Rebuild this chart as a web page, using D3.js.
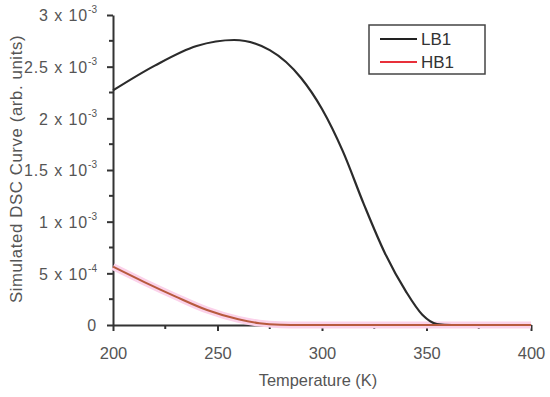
<!DOCTYPE html>
<html>
<head>
  <meta charset="UTF-8">
  <script src="https://d3js.org/d3.v7.min.js"></script>
</head>
<body style="margin:0;background:#fff">
  <svg id="dscSVG"></svg>
<style>
  text { font-family: 'Liberation Sans', Arial, sans-serif; fill: #555; }
  .legendtext { fill: #333; font-family: 'Liberation Sans Narrow', 'Liberation Sans', Arial, sans-serif; }
</style>
<script type="text/javascript">
  // values, y in units of 1e-3
  const lbTemp=[200,220,240,258,275,290,300,310,320,330,340,348,355,362,400];
  const lbValue=[2.27,2.51,2.70,2.758,2.66,2.39,2.09,1.68,1.17,0.70,0.33,0.10,0.01,0,0];
  const hbTemp=[200,215,230,245,260,270,280,290,400];
  const hbValue=[0.564,0.415,0.275,0.145,0.055,0.018,0.003,0,0];
  const xTicks=[200,250,300,350,400];
  const yTicks=[0,0.5,1,1.5,2,2.5,3];
  const yTickLabels=[['0',''],['5','-4'],['1','-3'],['1.5','-3'],['2','-3'],['2.5','-3'],['3','-3']];
  const seriesNames=['LB1','HB1'];

  let width=550,height=397;
  let chartMargin={top: 15,right: 19,bottom: 72,left: 113};
  let innerW=width-chartMargin.left-chartMargin.right;
  let innerH=height-chartMargin.top-chartMargin.bottom;

  let svg=d3.select('#dscSVG').attr('width',width).attr('height',height);
  let chart=svg.append('g').attr('transform',`translate(${chartMargin.left},${chartMargin.top})`);

  const x=d3.scaleLinear().domain([200,400]).range([0,innerW]);
  const y=d3.scaleLinear().domain([0,3]).range([innerH,0]);

  const line=d3.line().x(d => x(d[0])).y(d => y(d[1])).curve(d3.curveMonotoneX);
  const lbData=lbTemp.map((t,i) => [t,lbValue[i]]);
  const hbData=hbTemp.map((t,i) => [t,hbValue[i]]);

  // minor ticks
  let minorX=d3.range(225,400,50);
  let minorY=d3.range(0.25,3,0.5);
  chart.append('g').selectAll('line').data(minorX).join('line')
    .attr('x1',d => x(d)).attr('x2',d => x(d)).attr('y1',innerH).attr('y2',innerH+4)
    .attr('stroke','#333').attr('stroke-width',2);
  chart.append('g').selectAll('line').data(minorY).join('line')
    .attr('x1',-4).attr('x2',0).attr('y1',d => y(d)).attr('y2',d => y(d))
    .attr('stroke','#333').attr('stroke-width',2);

  let xAxis=chart.append('g').attr('transform',`translate(0,${innerH})`)
    .call(d3.axisBottom(x).tickValues(xTicks).tickSize(6).tickPadding(16).tickSizeOuter(0));
  xAxis.select('.domain').attr('stroke','#333').attr('stroke-width',2);
  xAxis.selectAll('.tick line').attr('stroke','#333').attr('stroke-width',2);
  xAxis.selectAll('.tick text').attr('font-size','16.5px').attr('fill','#555');

  let yAxis=chart.append('g')
    .call(d3.axisLeft(y).tickValues(yTicks).tickSize(6).tickPadding(10).tickSizeOuter(0).tickFormat(''));
  yAxis.select('.domain').attr('stroke','#333').attr('stroke-width',2);
  yAxis.selectAll('.tick line').attr('stroke','#333').attr('stroke-width',2);
  yAxis.selectAll('.tick text').each(function(d,i){
    let lab=yTickLabels[i];
    let t=d3.select(this).attr('font-size','16px').attr('fill','#555').attr('x',-16).attr('dy','0.36em')
      .attr('letter-spacing','0.9px');
    if(lab[1]===''){
      t.text(lab[0]);
    }else{
      t.append('tspan').text(lab[0]+' x 10');
      t.append('tspan').attr('font-size','10px').attr('dy','-0.8em').attr('letter-spacing','0px').text(lab[1]);
    }
  });

  // HB1 halo then lines
  chart.append('path').datum(hbData).attr('d',line).attr('fill','none')
    .attr('stroke','#fbd2ea').attr('stroke-width',7).attr('stroke-linejoin','round');
  chart.append('path').datum(lbData).attr('d',line).attr('fill','none')
    .attr('stroke','#2b2b2b').attr('stroke-width',2.2);
  chart.append('path').datum(hbData).attr('d',line).attr('fill','none')
    .attr('stroke','#b85a3e').attr('stroke-width',2);

  // axis labels
  svg.append('text').attr('x',chartMargin.left+x(300)-4).attr('y',386)
    .attr('text-anchor','middle').attr('font-size','16.4px').text('Temperature (K)');
  svg.append('text').attr('transform','translate(22,169) rotate(-90)')
    .attr('text-anchor','middle').attr('font-size','16.8px').attr('letter-spacing','0.6px')
    .text('Simulated DSC Curve (arb. units)');

  // legend
  let legend=svg.append('g').attr('transform','translate(369,25)');
  legend.append('rect').attr('width',116).attr('height',49).attr('fill','#fff')
    .attr('stroke','#444').attr('stroke-width',1.5);
  const legendColors=['#222','#e8303a'];
  seriesNames.forEach((n,i) => {
    legend.append('line').attr('x1',11).attr('x2',48).attr('y1',14+i*23).attr('y2',14+i*23)
      .attr('stroke',legendColors[i]).attr('stroke-width',2);
    legend.append('text').attr('class','legendtext').attr('x',52).attr('y',14+i*23).attr('dy','0.36em')
      .attr('font-size','17px').text(n);
  });
</script>
</body>
</html>
